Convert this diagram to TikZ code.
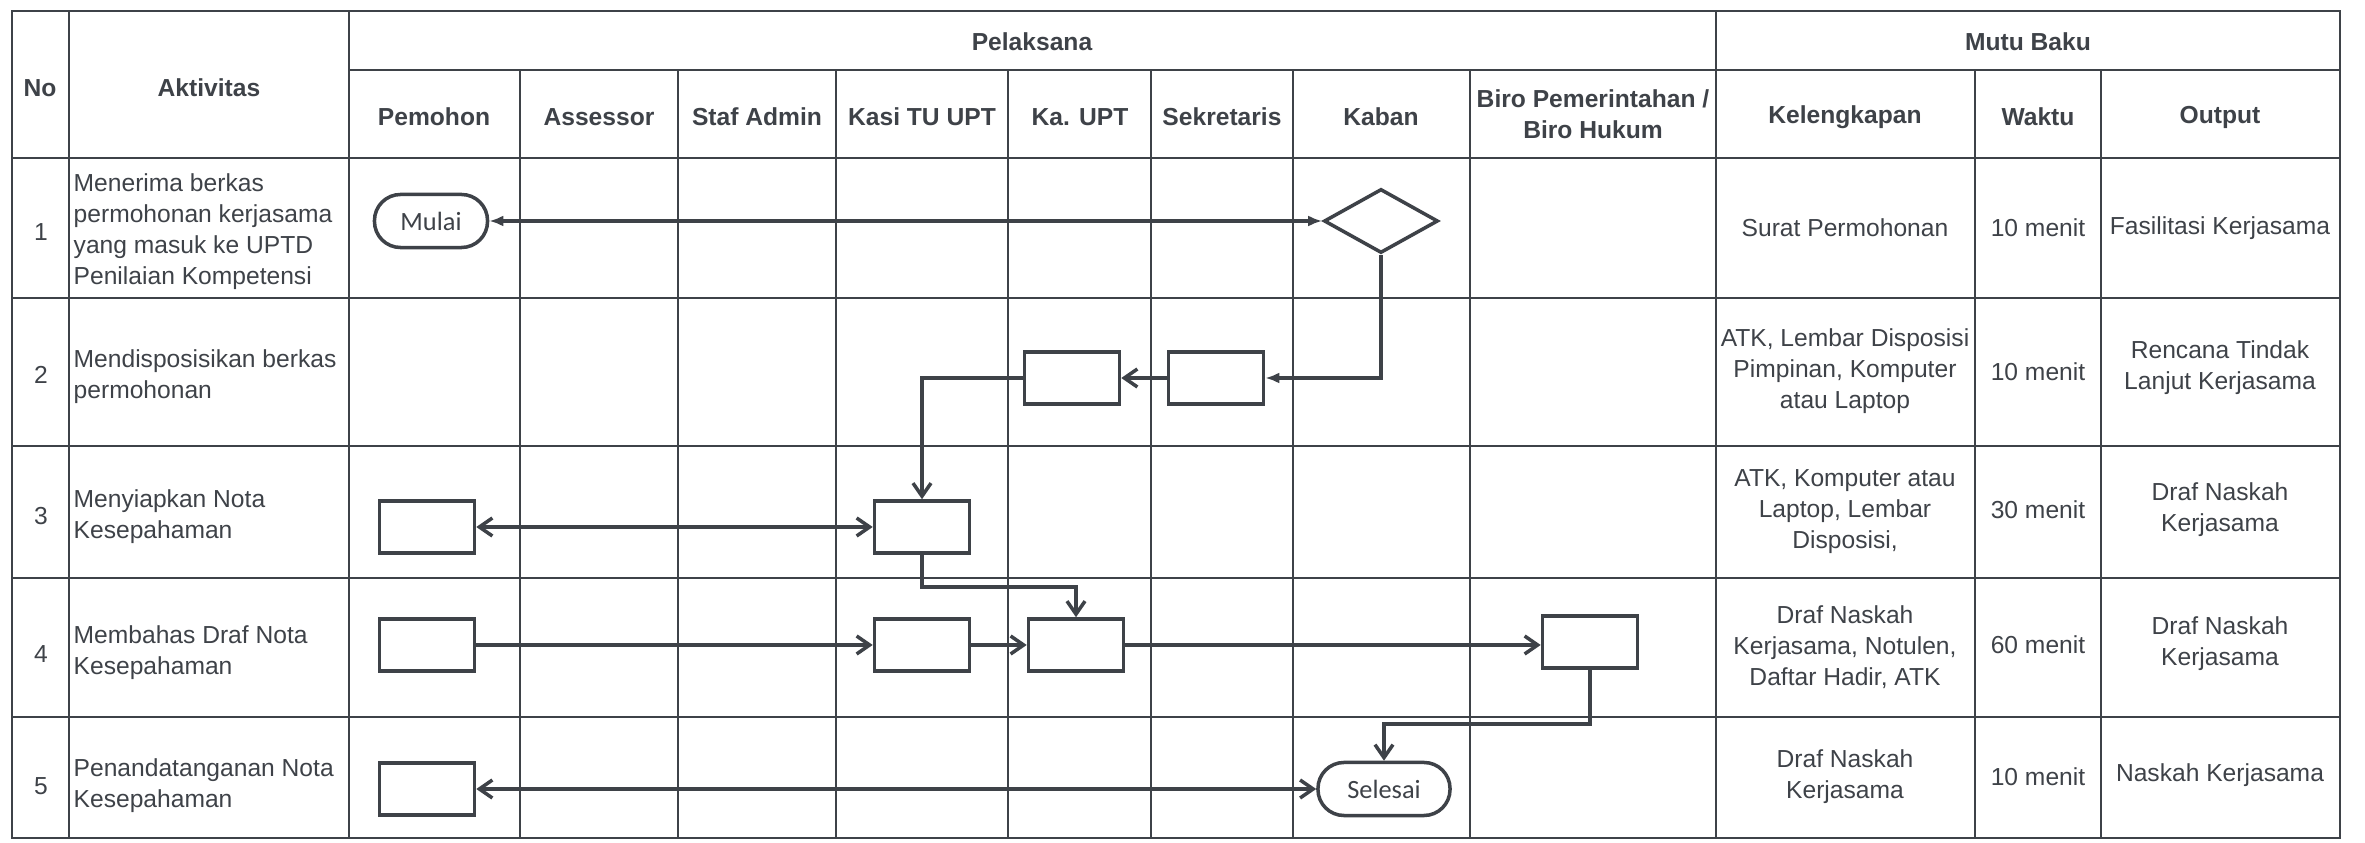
\documentclass[tikz,border=0pt]{standalone}
\usepackage{fontspec}
\setmainfont{Liberation Sans}
\newfontfamily\calibrifont{Carlito}
\usetikzlibrary{arrows.meta,shapes.geometric,positioning}
\definecolor{ink}{RGB}{62,66,72}

\begin{document}
\begin{tikzpicture}[x=0.01cm,y=-0.01cm,
  every node/.style={font=\fontsize{7}{8.8}\selectfont,text=ink},
  grid/.style={draw=ink,line width=0.6pt},
  head/.style={font=\fontsize{7}{8.8}\selectfont\bfseries,align=center},
  cell/.style={align=center},
  act/.style={align=left,anchor=west,inner sep=0pt},
  proc/.style={draw=ink,fill=white,line width=1pt,minimum width=0.95cm,minimum height=0.52cm,inner sep=0pt},
  term/.style={draw=ink,fill=white,line width=1pt,rounded corners=0.26cm,minimum height=0.53cm,inner sep=0pt,font=\calibrifont\fontsize{7.5}{9}\selectfont},
  decision/.style={draw=ink,fill=white,line width=1pt,diamond,aspect=1.8,minimum width=1.14cm,minimum height=0.64cm,inner sep=0pt},
  flow/.style={draw=ink,line width=1pt},
  solid/.style={-{Latex[length=0.14cm,width=0.11cm]}},
  open/.style={-{Straight Barb[length=0.13cm,width=0.18cm]}},
  both/.style={{Straight Barb[length=0.13cm,width=0.18cm]}-{Straight Barb[length=0.13cm,width=0.18cm]}}]
\useasboundingbox (0,0) rectangle (2365,843);

% table lines
\draw[grid] (12,11) rectangle (2340,838);
\draw[grid] (349,70) -- (2340,70);
\foreach \y in {158,298,446,578,717} \draw[grid] (12,\y) -- (2340,\y);
\foreach \x in {69,349,1716} \draw[grid] (\x,11) -- (\x,838);
\foreach \x in {520,678,836,1008,1151,1293,1470,1975,2101} \draw[grid] (\x,70) -- (\x,838);

% header
\node[head] (hno) at (40,88) {No};
\node[head] (hakt) at (209,88) {Aktivitas};
\node[head] (hpel) at (1032,42) {Pelaksana};
\node[head] (hmutu) at (2028,42) {Mutu Baku};
\node[head] (hpem) at (434,117) {Pemohon};
\node[head] (hass) at (599,117) {Assessor};
\node[head] (hstaf) at (757,117) {Staf Admin};
\node[head] (hkasi) at (922,117) {Kasi TU UPT};
\node[head] (hka) at (1080,117) {Ka. UPT};
\node[head] (hsek) at (1222,117) {Sekretaris};
\node[head] (hkaban) at (1381,117) {Kaban};
\node[head] (hbiro) at (1593,114) {Biro Pemerintahan /\\Biro Hukum};
\node[head] (hkel) at (1845,117) {Kelengkapan};
\node[head] (hwkt) at (2038,117) {Waktu};
\node[head] (hout) at (2220,117) {Output};

% rows
\node (no1) at (41,232) {1};
\node[act] (akt1) at (73,232) {Menerima berkas\\permohonan kerjasama\\yang masuk ke UPTD\\Penilaian Kompetensi};
\node[cell] (kel1) at (1845,228) {Surat Permohonan};
\node[cell] (wkt1) at (2038,228) {10 menit};
\node[cell] (out1) at (2220,228) {Fasilitasi Kerjasama};

\node (no2) at (41,375) {2};
\node[act] (akt2) at (73,377) {Mendisposisikan berkas\\permohonan};
\node[cell] (kel2) at (1845,371) {ATK, Lembar Disposisi\\Pimpinan, Komputer\\atau Laptop};
\node[cell] (wkt2) at (2038,372) {10 menit};
\node[cell] (out2) at (2220,368) {Rencana Tindak\\Lanjut Kerjasama};

\node (no3) at (41,516) {3};
\node[act] (akt3) at (73,517) {Menyiapkan Nota\\Kesepahaman};
\node[cell] (kel3) at (1845,512) {ATK, Komputer atau\\Laptop, Lembar\\Disposisi,};
\node[cell] (wkt3) at (2038,510) {30 menit};
\node[cell] (out3) at (2220,510) {Draf Naskah\\Kerjasama};

\node (no4) at (41,654) {4};
\node[act] (akt4) at (73,653) {Membahas Draf Nota\\Kesepahaman};
\node[cell] (kel4) at (1845,647) {Draf Naskah\\Kerjasama, Notulen,\\Daftar Hadir, ATK};
\node[cell] (wkt4) at (2038,645) {60 menit};
\node[cell] (out4) at (2220,644) {Draf Naskah\\Kerjasama};

\node (no5) at (41,786) {5};
\node[act] (akt5) at (73,786) {Penandatanganan Nota\\Kesepahaman};
\node[cell] (kel5) at (1845,777) {Draf Naskah\\Kerjasama};
\node[cell] (wkt5) at (2038,777) {10 menit};
\node[cell] (out5) at (2220,775) {Naskah Kerjasama};

% flow shapes
\node[term,minimum width=1.13cm] (mulai) at (431,221) {Mulai};
\node[decision] (dec) at (1381,221) {};
\node[proc] (sek2) at (1216,378) {};
\node[proc] (ka2) at (1072,378) {};
\node[proc] (kasi3) at (922,527) {};
\node[proc] (pem3) at (427,527) {};
\node[proc] (pem4) at (427,645) {};
\node[proc] (kasi4) at (922,645) {};
\node[proc] (ka4) at (1076,645) {};
\node[proc] (biro4) at (1590,642) {};
\node[term,minimum width=1.32cm] (selesai) at (1384,789) {Selesai};
\node[proc] (pem5) at (427,789) {};

% connectors
\draw[flow,{Latex[length=0.14cm,width=0.11cm]}-{Latex[length=0.14cm,width=0.11cm]}] (mulai) -- (dec);
\draw[flow,solid] (dec.south) |- (sek2.east);
\draw[flow,open] (sek2) -- (ka2);
\draw[flow,open] (ka2.west) -| (kasi3.north);
\draw[flow,both] (pem3) -- (kasi3);
\draw[flow,open] (kasi3.south) -- ++(0,32) -| (ka4.north);
\draw[flow,open] (pem4) -- (kasi4);
\draw[flow,open] (kasi4) -- (ka4);
\draw[flow,open] (ka4.east) -- (ka4.east -| biro4.west);
\draw[flow,open] (biro4.south) -- ++(0,54) -| (selesai.north);
\draw[flow,both] (pem5) -- (selesai);
\end{tikzpicture}
\end{document}
